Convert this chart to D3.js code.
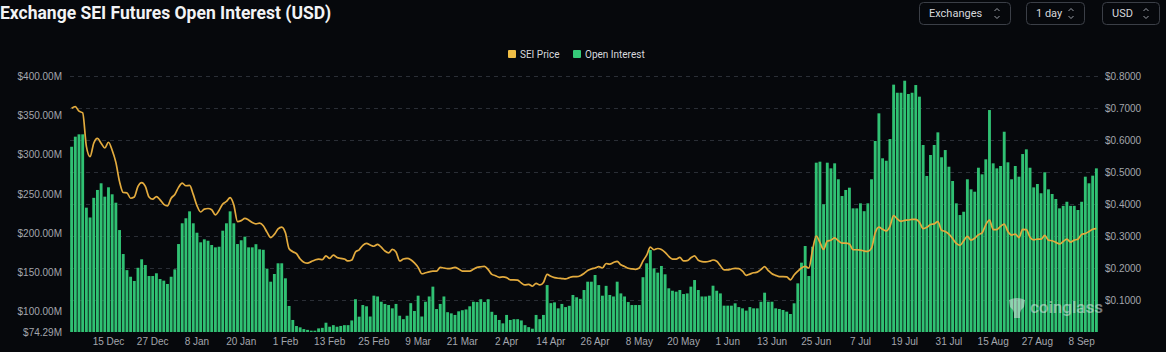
<!DOCTYPE html>
<html>
<head>
<meta charset="utf-8">
<script src="https://cdn.jsdelivr.net/npm/d3@7"></script>
<style>
  html, body { margin: 0; padding: 0; background: #06080c; }
  svg { display: block; font-family: Roboto, "Noto Sans", sans-serif; }
</style>
</head>
<body>
<svg class="chart"></svg>
<script>
const W = 1166
const H = 352

// daily categories, 5 Dec 2024 .. 12 Sep 2025 (three August days have no data)
const startDay = "2024-12-05"
const endDay = "2025-09-12"
const missingDays = ["2025-08-05", "2025-08-06", "2025-08-07"]

const tickLabels = ["15 Dec","27 Dec","8 Jan","20 Jan","1 Feb","13 Feb","25 Feb","9 Mar","21 Mar","2 Apr",
  "14 Apr","26 Apr","8 May","20 May","1 Jun","13 Jun","25 Jun","7 Jul","19 Jul","31 Jul","15 Aug","27 Aug","8 Sep"]

const oiTicks = [74.29, 100, 150, 200, 250, 300, 350, 400]
const priceTicks = [0.1, 0.2, 0.3, 0.4, 0.5, 0.6, 0.7, 0.8]

// open interest, millions USD
const openInterest = [
  310, 322.8, 325.8, 325.8, 232.5, 220, 245, 255, 263.5, 246.5, 258.4, 249.5, 238.8, 204, 173.5, 153,
  144.6, 139.2, 156, 166.8, 159.5, 145.5, 145.5, 149, 141.7, 139.6, 135.4, 144.6, 154, 186.2, 212.6, 219,
  227.8, 212.6, 200.6, 188.4, 192.2, 190.4, 185, 182, 182.8, 203.2, 212.6, 227.8, 212.6, 186.2, 191, 195.6,
  182, 182, 186, 179.5, 178.9, 154.9, 138.3, 148.1, 161.7, 161.7, 142.6, 107.4, 89.6, 81.9, 80.2, 78,
  77, 76, 76, 78.9, 79.6, 86.1, 81, 83, 81, 82, 83, 83,
  89, 116, 93.8, 108.6, 107, 94, 120.5, 119.5, 112.8, 110, 108.6, 104.4, 110, 95, 90.6, 95,
  111, 101, 120.5, 94, 112.8, 119.5, 132, 103.5, 110, 119.5, 99.5, 98, 96, 100.6, 102, 103,
  107, 112.8, 112.4, 116, 112.4, 116, 100, 96, 89.6, 85.3, 96, 89.6, 90.6, 90.6, 89, 83,
  80.5, 78.5, 96, 90.6, 96, 134, 111, 112, 104.4, 110, 106, 107.6, 121.4, 118.5, 116.5, 127.7,
  138.3, 138.3, 146.8, 134, 120.5, 133, 121.4, 119.5, 138.3, 123.4, 119.5, 112.4, 108.6, 108.6, 108.6, 144,
  161.7, 178.6,
  155.3, 149.8, 158.3, 147.7, 129.9, 126.8, 125.6, 127.7, 122.6, 123.4, 132, 140.4, 127.7, 119.5, 119.5, 120.5,
  133.2, 126.8, 123.4, 107.8, 107.8, 107.8, 110.8, 106, 104.4, 101.5, 106, 104.4, 104.4, 112.8, 124.3, 112.8,
  112.8, 104.4, 103.6, 102.3, 100.2, 97.2, 110.8, 136.2, 162.5, 183.7, 145.5, 182.8,
  289.7, 291, 236.8, 289.7, 282.5, 288.9, 268.6, 247.3, 255, 257.9, 231.6, 231.6, 238, 228, 238, 268.6,
  317.3, 352.5, 295.3, 292.2, 319.8, 389, 378.7, 378.7, 394, 377.1, 378.7, 388.5, 373.7, 312.2, 272.8, 299.5,
  312.2, 328.3, 296.6, 305.8, 284.6, 266.4, 238, 223.1, 227.3, 268.6, 255.8, 252.8, 283.3, 274.9, 294, 356.7,
  288.9, 282.5, 285.5, 329.1, 290.2, 268.6, 285.5, 271.9, 300.7, 306.7, 283.3, 258.3, 262.6, 250.8, 277.5, 255.8,
  249.9, 243.5, 231.6, 234.8, 240, 234.8, 234.8, 229.5, 240, 271.9, 263.5, 273.2, 282.5
]

// SEI price, USD
const seiPrice = [
  0.699, 0.704, 0.69, 0.685, 0.58, 0.548, 0.59, 0.605, 0.59, 0.575, 0.593, 0.568, 0.53, 0.47, 0.436, 0.435,
  0.418, 0.422, 0.455, 0.467, 0.455, 0.422, 0.415, 0.423, 0.413, 0.399, 0.394, 0.418, 0.43, 0.452, 0.465, 0.457,
  0.458, 0.43, 0.395, 0.375, 0.384, 0.386, 0.382, 0.366, 0.38, 0.4, 0.408, 0.42, 0.397, 0.345, 0.348, 0.355,
  0.35, 0.342, 0.338, 0.34, 0.332, 0.312, 0.295, 0.305, 0.322, 0.328, 0.31, 0.26, 0.251, 0.245, 0.228, 0.218,
  0.215, 0.22, 0.225, 0.228, 0.226, 0.238, 0.23, 0.24, 0.233, 0.23, 0.228, 0.222,
  0.225, 0.25, 0.257, 0.271, 0.277, 0.272, 0.268, 0.274, 0.265, 0.253, 0.247, 0.258, 0.25, 0.222, 0.228, 0.23,
  0.226, 0.216, 0.202, 0.182, 0.185, 0.188, 0.19, 0.19, 0.202, 0.2, 0.198, 0.199, 0.202, 0.197, 0.19, 0.19,
  0.19, 0.196, 0.202, 0.204, 0.205, 0.195, 0.18, 0.176, 0.171, 0.172, 0.17, 0.163, 0.163, 0.162, 0.153, 0.147,
  0.149, 0.143, 0.152, 0.147, 0.155, 0.18, 0.174, 0.17, 0.168, 0.167, 0.166, 0.17, 0.173, 0.173, 0.176, 0.183,
  0.192, 0.197, 0.2, 0.204, 0.2, 0.214, 0.212, 0.217, 0.221, 0.21, 0.205, 0.199, 0.197, 0.196, 0.2, 0.222,
  0.24, 0.265,
  0.257, 0.261, 0.258, 0.249, 0.236, 0.228, 0.228, 0.233, 0.222, 0.223, 0.232, 0.238, 0.224, 0.22, 0.219, 0.221,
  0.225, 0.221, 0.207, 0.194, 0.194, 0.197, 0.199, 0.198, 0.19, 0.177, 0.181, 0.185, 0.187, 0.195, 0.204, 0.192,
  0.182, 0.177, 0.173, 0.173, 0.172, 0.163, 0.178, 0.19, 0.2, 0.205, 0.2, 0.256,
  0.30, 0.28, 0.258, 0.284, 0.287, 0.294, 0.285, 0.278, 0.278, 0.275, 0.257, 0.257, 0.256, 0.253, 0.252, 0.262,
  0.31, 0.328, 0.321, 0.316, 0.33, 0.364, 0.353, 0.346, 0.349, 0.35, 0.352, 0.352, 0.343, 0.323, 0.327, 0.336,
  0.338, 0.345, 0.318, 0.314, 0.306, 0.292, 0.277, 0.271, 0.285, 0.299, 0.287, 0.293, 0.304, 0.31, 0.335, 0.35,
  0.32, 0.32, 0.33, 0.337, 0.314, 0.303, 0.306, 0.295, 0.321, 0.32, 0.296, 0.288, 0.29, 0.29, 0.302, 0.287,
  0.285, 0.28, 0.275, 0.283, 0.29, 0.281, 0.287, 0.29, 0.305, 0.308, 0.314, 0.321, 0.323
]

const parseDay = d3.timeParse("%Y-%m-%d")
const fmtDay = d3.timeFormat("%-d %b")
const skip = missingDays.map(d => +parseDay(d))
const days = d3.timeDay.range(parseDay(startDay), d3.timeDay.offset(parseDay(endDay), 1))
  .filter(d => skip.indexOf(+d) < 0)

const n = Math.min(days.length, openInterest.length, seiPrice.length)
const rows = d3.range(n).map(i => ({ i: i, day: days[i], oi: openInterest[i], price: seiPrice[i] }))

const plotL = 70, plotR = 1098, plotT = 76, plotB = 332

const svg = d3.select(".chart")
  .attr("width", W)
  .attr("height", H)
  .attr("viewBox", "0 0 " + W + " " + H)

svg.append("rect")
  .attr("width", W)
  .attr("height", H)
  .attr("fill", "#06080c")

const x = d3.scaleBand()
  .domain(rows.map(d => d.i))
  .range([plotL, plotR])
  .paddingInner(0.22)
  .paddingOuter(0.05)

const yOi = d3.scaleLinear().domain([74.29, 400]).range([plotB, plotT])
const yPrice = d3.scaleLinear().domain([0, 0.8]).range([plotB, plotT])

// dashed grid follows the price axis
svg.append("g")
  .selectAll("line")
  .data(priceTicks)
  .enter()
  .append("line")
  .attr("x1", plotL)
  .attr("x2", plotR + 2)
  .attr("y1", d => Math.round(yPrice(d)) + 0.5)
  .attr("y2", d => Math.round(yPrice(d)) + 0.5)
  .attr("stroke", "#2a2e36")
  .attr("stroke-width", 1)
  .attr("stroke-dasharray", "4,4")

// bars
svg.append("g")
  .selectAll("rect")
  .data(rows)
  .enter()
  .append("rect")
  .attr("x", d => x(d.i))
  .attr("width", x.bandwidth())
  .attr("y", d => yOi(d.oi))
  .attr("height", d => plotB - yOi(d.oi))
  .attr("fill", "#30c173")

// price line
const priceLine = d3.line()
  .x(d => x(d.i) + x.bandwidth() / 2)
  .y(d => yPrice(d.price))
  .curve(d3.curveMonotoneX)

svg.append("path")
  .datum(rows)
  .attr("d", priceLine)
  .attr("fill", "none")
  .attr("stroke", "#e3ab3e")
  .attr("stroke-width", 1.7)
  .attr("stroke-linejoin", "round")

// axes
const leftAxis = svg.append("g")
  .attr("transform", "translate(64,0)")
  .call(d3.axisLeft(yOi).tickValues(oiTicks).tickSize(0).tickPadding(2)
    .tickFormat(d => "$" + d.toFixed(2) + "M"))

const rightAxis = svg.append("g")
  .attr("transform", "translate(1103,0)")
  .call(d3.axisRight(yPrice).tickValues(priceTicks).tickSize(0).tickPadding(2)
    .tickFormat(d => "$" + d.toFixed(4)))

const tickIdx = rows.filter(d => tickLabels.indexOf(fmtDay(d.day)) >= 0).map(d => d.i)

const bottomAxis = svg.append("g")
  .attr("transform", "translate(0," + plotB + ")")
  .call(d3.axisBottom(x).tickValues(tickIdx).tickSize(0).tickPadding(6)
    .tickFormat(i => fmtDay(rows[i].day)))

;[leftAxis, rightAxis, bottomAxis].forEach(a => {
  a.select(".domain").remove()
  a.selectAll("text")
    .attr("fill", "#a3a6ad")
    .style("font-size", "10px")
})

// title
svg.append("text")
  .attr("x", 0)
  .attr("y", 19)
  .attr("fill", "#f2f3f5")
  .style("font-size", "17.5px")
  .style("font-weight", "700")
  .text("Exchange SEI Futures Open Interest (USD)")

// selectors at the top right
const buttons = [
  { label: "Exchanges", x0: 919, x1: 1010 },
  { label: "1 day", x0: 1026, x1: 1084 },
  { label: "USD", x0: 1102, x1: 1159 }
]

const btn = svg.append("g")
  .selectAll("g")
  .data(buttons)
  .enter()
  .append("g")

btn.append("rect")
  .attr("x", d => d.x0 + 0.5)
  .attr("y", 2.5)
  .attr("width", d => d.x1 - d.x0)
  .attr("height", 22)
  .attr("rx", 4)
  .attr("fill", "none")
  .attr("stroke", "#3b3f47")

btn.append("text")
  .attr("x", d => d.x0 + 10)
  .attr("y", 17)
  .attr("fill", "#d6d8dc")
  .style("font-size", "11px")
  .text(d => d.label)

btn.append("path")
  .attr("d", d => {
    let cx = d.x1 - 13
    return "M" + (cx - 2.5) + ",11 L" + cx + ",8.5 L" + (cx + 2.5) + ",11" +
      "M" + (cx - 2.5) + ",16 L" + cx + ",18.5 L" + (cx + 2.5) + ",16"
  })
  .attr("fill", "none")
  .attr("stroke", "#9a9ea6")
  .attr("stroke-width", 1)

// legend
const legend = [
  { label: "SEI Price", color: "#f0be45", x: 508 },
  { label: "Open Interest", color: "#35c978", x: 573 }
]

const lg = svg.append("g")
  .selectAll("g")
  .data(legend)
  .enter()
  .append("g")

lg.append("rect")
  .attr("x", d => d.x)
  .attr("y", 50)
  .attr("width", 8)
  .attr("height", 8)
  .attr("rx", 1)
  .attr("fill", d => d.color)

lg.append("text")
  .attr("x", d => d.x + 12)
  .attr("y", 57.5)
  .attr("fill", "#d6d8dc")
  .style("font-size", "10px")
  .text(d => d.label)

// watermark
const wm = svg.append("g")
  .attr("opacity", 0.5)

wm.append("path")
  .attr("d", "M1009,300 q8,-4 16,0 l-1,7 q-3,2 -4,6 l0,5 l-6,0 l0,-5 q-1,-4 -4,-6 z")
  .attr("fill", "#e8eaec")

wm.append("text")
  .attr("x", 1030)
  .attr("y", 313)
  .attr("fill", "#e8eaec")
  .style("font-size", "17px")
  .style("font-weight", "500")
  .text("coinglass")
</script>
</body>
</html>
